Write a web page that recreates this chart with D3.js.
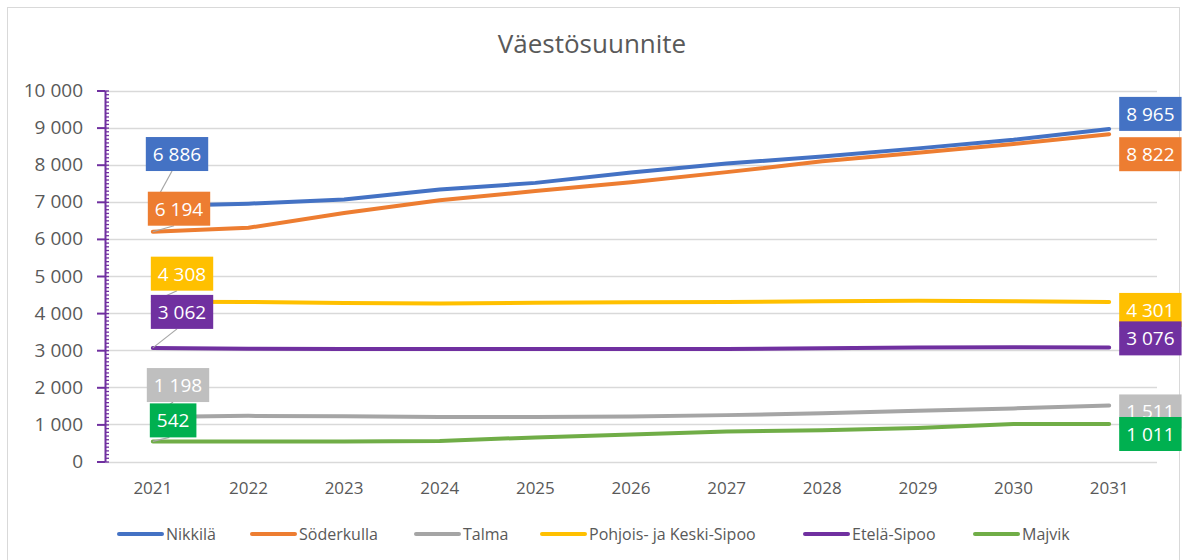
<!DOCTYPE html>
<html>
<head>
<meta charset="utf-8">
<script src="https://cdn.jsdelivr.net/npm/d3@7"></script>
<style>
	body { margin: 0; background: #fff; }
	svg { display: block; font-family: 'Open Sans', sans-serif; }
</style>
</head>
<body>
<svg id="chart"></svg>
<script>
const years = [2021, 2022, 2023, 2024, 2025, 2026, 2027, 2028, 2029, 2030, 2031];
const seriesNames = ['Nikkilä', 'Söderkulla', 'Talma', 'Pohjois- ja Keski-Sipoo', 'Etelä-Sipoo', 'Majvik'];
const nikkila = [6886, 6950, 7060, 7330, 7510, 7790, 8030, 8220, 8440, 8670, 8965];
const soderkulla = [6194, 6300, 6700, 7040, 7290, 7530, 7800, 8090, 8320, 8560, 8822];
const talma = [1198, 1230, 1220, 1200, 1200, 1210, 1250, 1300, 1370, 1430, 1511];
const pohjois = [4308, 4300, 4270, 4260, 4280, 4290, 4300, 4320, 4330, 4320, 4301];
const etela = [3062, 3040, 3030, 3030, 3030, 3030, 3030, 3050, 3070, 3080, 3076];
const majvik = [542, 540, 540, 550, 650, 730, 810, 840, 900, 1010, 1011];
const yTicks = [0, 1000, 2000, 3000, 4000, 5000, 6000, 7000, 8000, 9000, 10000];
const title = 'Väestösuunnite';

const DIMENSION = {
	width: 1185,
	height: 560,
	plot: { left: 105, right: 1157, top: 90.5, bottom: 461.5 }
};

const lineColors = ['#4472C4', '#ED7D31', '#A5A5A5', '#FFC000', '#7030A0', '#70AD47'];
const boxColors = ['#4472C4', '#ED7D31', '#BFBFBF', '#FFC000', '#7030A0', '#00B050'];
// label offsets from the first / last point: [dx of box left, dy of box centre]
const firstLabelPos = [[-7, -52], [-5, -23], [-6, -32], [-2, -28], [-2, -36], [-3, -21]];
const lastLabelPos = [[10, -15], [10, 20], [10, 6], [10, 8], [10, -9], [10, 10]];
const legendX = [117, 250, 414, 540, 803, 973];

const series = [nikkila, soderkulla, talma, pohjois, etela, majvik].map((values, i) => ({
	name: seriesNames[i],
	values: values.map((v, j) => ({ year: years[j], value: v }))
}));

const fmt = d3.formatLocale({ decimal: ',', thousands: ' ', grouping: [3], currency: ['', '€'] }).format(',d');
const TEXT = '#595959';

const svg = d3.select('#chart')
	.attr('width', DIMENSION.width)
	.attr('height', DIMENSION.height);

svg.append('rect')
	.attr('x', 7.5).attr('y', 7.5)
	.attr('width', 1172).attr('height', 560)
	.attr('fill', '#fff')
	.attr('stroke', '#D9D9D9');

svg.append('text')
	.attr('x', 592).attr('y', 53)
	.attr('text-anchor', 'middle')
	.attr('font-size', 26)
	.attr('fill', TEXT)
	.text(title);

const xScale = d3.scaleBand()
	.domain(years)
	.range([DIMENSION.plot.left, DIMENSION.plot.right]);
const xPos = y => xScale(y) + xScale.bandwidth() / 2;

const yScale = d3.scaleLinear()
	.domain([0, 10000])
	.range([DIMENSION.plot.bottom, DIMENSION.plot.top]);

// gridlines
svg.append('g')
	.selectAll('line')
	.data(yTicks)
	.join('line')
	.attr('x1', DIMENSION.plot.left).attr('x2', DIMENSION.plot.right)
	.attr('y1', d => Math.round(yScale(d)) + 0.5).attr('y2', d => Math.round(yScale(d)) + 0.5)
	.attr('stroke', '#D9D9D9')
	.attr('stroke-width', 1.3);

// x axis labels
const xAxis = svg.append('g')
	.attr('transform', `translate(0,${DIMENSION.plot.bottom})`)
	.call(d3.axisBottom(xScale).tickSize(0).tickPadding(20));
xAxis.select('.domain').remove();
xAxis.selectAll('text')
	.attr('font-family', "'Open Sans', sans-serif")
	.attr('font-size', 17)
	.attr('fill', TEXT);

// y axis
const yAxisMinor = svg.append('g')
	.attr('transform', `translate(${DIMENSION.plot.left},0)`)
	.call(d3.axisRight(yScale).tickValues(d3.range(0, 10001, 100)).tickSize(4).tickFormat(''));
yAxisMinor.select('.domain').remove();
yAxisMinor.selectAll('line').attr('stroke', '#7030A0').attr('stroke-width', 1.3);

const yAxis = svg.append('g')
	.attr('transform', `translate(${DIMENSION.plot.left},0)`)
	.call(d3.axisLeft(yScale).tickValues(yTicks).tickSizeInner(8).tickSizeOuter(0).tickPadding(14).tickFormat(fmt));
yAxis.select('.domain').attr('stroke', '#7030A0').attr('stroke-width', 2);
yAxis.selectAll('.tick line').attr('stroke', '#7030A0').attr('stroke-width', 2);
yAxis.selectAll('text')
	.attr('font-family', "'Open Sans', sans-serif")
	.attr('font-size', 19)
	.attr('fill', TEXT);

// lines
const line = d3.line()
	.x(d => xPos(d.year))
	.y(d => yScale(d.value));

svg.append('g')
	.selectAll('path')
	.data(series)
	.join('path')
	.attr('fill', 'none')
	.attr('stroke', (d, i) => lineColors[i])
	.attr('stroke-width', 4)
	.attr('stroke-linecap', 'round')
	.attr('stroke-linejoin', 'round')
	.attr('d', d => line(d.values));

// data labels
const labelLayer = svg.append('g');
const drawLabel = (g, point, pos, i, leader) => {
	const px = xPos(point.year);
	const py = yScale(point.value);
	const t = g.append('text')
		.attr('font-size', 19)
		.attr('fill', '#fff')
		.text(fmt(point.value));
	const w = t.node().getComputedTextLength() + 14;
	const h = 34;
	const bx = px + pos[0];
	const cy = py + pos[1];
	if (leader) {
		g.insert('line', 'text')
			.attr('x1', px).attr('y1', py)
			.attr('x2', bx + w * 0.42).attr('y2', cy + h / 2)
			.attr('stroke', '#A6A6A6')
			.attr('stroke-width', 1.2);
	}
	g.insert('rect', 'text')
		.attr('x', bx).attr('y', cy - h / 2)
		.attr('width', w).attr('height', h)
		.attr('fill', boxColors[i]);
	t.attr('x', bx + 7).attr('y', cy + 7);
};

series.forEach((s, i) => {
	drawLabel(labelLayer.append('g'), s.values[0], firstLabelPos[i], i, true);
});
series.forEach((s, i) => {
	drawLabel(labelLayer.append('g'), s.values[s.values.length - 1], lastLabelPos[i], i, false);
});

// legend
const legend = svg.append('g')
	.selectAll('g')
	.data(series)
	.join('g')
	.attr('transform', (d, i) => `translate(${legendX[i]},534)`);
legend.append('line')
	.attr('x1', 2).attr('x2', 45)
	.attr('stroke', (d, i) => lineColors[i])
	.attr('stroke-width', 4)
	.attr('stroke-linecap', 'round');
legend.append('text')
	.attr('x', 49).attr('y', 6)
	.attr('font-size', 16)
	.attr('fill', TEXT)
	.text(d => d.name);
</script>
</body>
</html>
